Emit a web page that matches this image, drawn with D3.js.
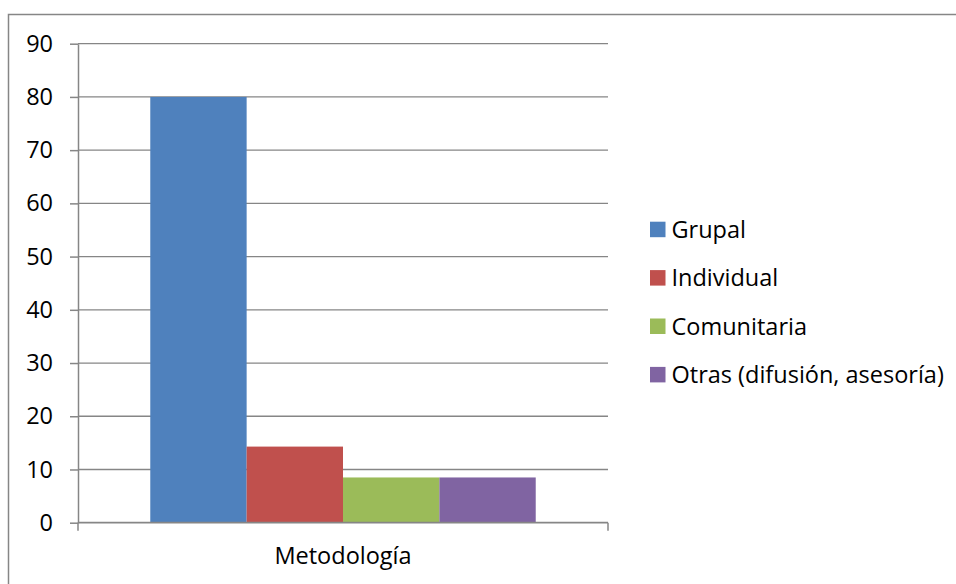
<!DOCTYPE html>
<html>
<head>
<meta charset="utf-8">
<script src="https://cdn.jsdelivr.net/npm/d3@7"></script>
<style>
  html, body { margin: 0; padding: 0; background: #ffffff; }
  svg { display: block; }
  text { font-family: "Open Sans", "Noto Sans", sans-serif; fill: #000; }
</style>
</head>
<body>
<svg id="chart" width="956" height="584"></svg>
<script>
// Metodología utilizada (porcentaje)
const categories = ["Metodología"];
const seriesNames = ["Grupal", "Individual", "Comunitaria", "Otras (difusión, asesoría)"];
const seriesValues = [80, 14.3, 8.5, 8.5];
const seriesColors = ["#4F81BD", "#C0504D", "#9BBB59", "#8064A2"];
const yTicks = [0, 10, 20, 30, 40, 50, 60, 70, 80, 90];

const svg = d3.select("#chart");
const W = 956, H = 584;
const plot = { left: 78, right: 608, top: 43.7, bottom: 522.7 };
const gridColor = "#868686";
const fontSize = 23.5;

svg.append("rect").attr("width", W).attr("height", H).attr("fill", "#fff");

// outer chart frame
svg.append("rect")
  .attr("x", 8.5).attr("y", 14.5)
  .attr("width", 960).attr("height", 600)
  .attr("fill", "none")
  .attr("stroke", gridColor)
  .attr("stroke-width", 1.5);

const y = d3.scaleLinear().domain([0, 90]).range([plot.bottom, plot.top]);
const x0 = d3.scaleBand().domain(categories).range([plot.left, plot.right]).padding(0);
const x1 = d3.scaleBand().domain(seriesNames).range([0, x0.bandwidth()])
  .paddingInner(0).paddingOuter(0.75);

// horizontal gridlines
svg.append("g")
  .selectAll("line")
  .data(yTicks.filter(d => d > 0))
  .join("line")
  .attr("x1", plot.left).attr("x2", plot.right)
  .attr("y1", d => y(d)).attr("y2", d => y(d))
  .attr("stroke", gridColor)
  .attr("stroke-width", 1.3);

// bars
const group = svg.append("g")
  .selectAll("g")
  .data(categories)
  .join("g")
  .attr("transform", d => `translate(${x0(d)},0)`);

group.selectAll("rect")
  .data(seriesNames.map((n, i) => ({ name: n, value: seriesValues[i], color: seriesColors[i] })))
  .join("rect")
  .attr("x", d => x1(d.name))
  .attr("width", x1.bandwidth())
  .attr("y", d => y(d.value))
  .attr("height", d => y(0) - y(d.value))
  .attr("fill", d => d.color);

// y axis
const yAxis = svg.append("g")
  .attr("transform", `translate(${plot.left},0)`)
  .call(d3.axisLeft(y).tickValues(yTicks).tickSize(8).tickPadding(17).tickSizeOuter(0));
yAxis.select(".domain").attr("stroke", gridColor).attr("stroke-width", 1.5);
yAxis.selectAll(".tick line").attr("stroke", gridColor).attr("stroke-width", 1.5);
yAxis.selectAll(".tick text")
  .attr("font-size", fontSize)
  .attr("font-family", "'Open Sans', sans-serif")
  .attr("fill", "#000");

// x axis (ticks at category boundaries)
const xAxis = svg.append("g")
  .attr("transform", `translate(0,${plot.bottom})`);
xAxis.append("line")
  .attr("x1", plot.left).attr("x2", plot.right)
  .attr("y1", 0).attr("y2", 0)
  .attr("stroke", gridColor).attr("stroke-width", 1.8);
xAxis.selectAll("line.tk")
  .data([plot.left, plot.right])
  .join("line")
  .attr("class", "tk")
  .attr("x1", d => d).attr("x2", d => d)
  .attr("y1", 0).attr("y2", 8)
  .attr("stroke", gridColor).attr("stroke-width", 1.5);
xAxis.selectAll("text")
  .data(categories)
  .join("text")
  .attr("x", d => x0(d) + x0.bandwidth() / 2)
  .attr("y", 41)
  .attr("text-anchor", "middle")
  .attr("font-size", fontSize)
  .text(d => d);

// legend
const legend = svg.append("g").attr("transform", "translate(650,229.5)");
const item = legend.selectAll("g")
  .data(seriesNames)
  .join("g")
  .attr("transform", (d, i) => `translate(0,${i * 48.4})`);
item.append("rect")
  .attr("x", 0).attr("y", -7.8)
  .attr("width", 15.5).attr("height", 15.5)
  .attr("fill", (d, i) => seriesColors[i]);
item.append("text")
  .attr("x", 21.5)
  .attr("y", 0)
  .attr("dy", "0.35em")
  .attr("font-size", fontSize)
  .text(d => d);
</script>
</body>
</html>
